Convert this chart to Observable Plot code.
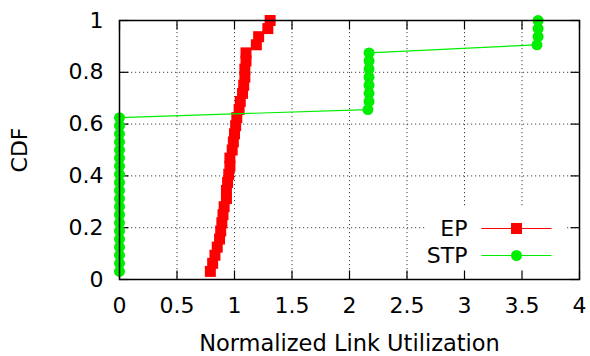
<!DOCTYPE html>
<html>
<head>
<meta charset="utf-8">
<script src="https://cdn.jsdelivr.net/npm/d3@7"></script>
<script src="https://cdn.jsdelivr.net/npm/@observablehq/plot@0.6"></script>
<style>
  html, body { margin: 0; padding: 0; background: #fff; }
  #chart { width: 590px; height: 356px; }
</style>
</head>
<body>
<div id="chart"></div>
<script>
// ---- data ----
const cdfSteps = 32;
const epValues = [0.79, 0.81, 0.83, 0.85, 0.87, 0.88, 0.89, 0.90, 0.91, 0.93,
                  0.93, 0.94, 0.95, 0.96, 0.96, 0.98, 0.99, 1.00, 1.01, 1.02,
                  1.04, 1.05, 1.07, 1.08, 1.09, 1.09, 1.10, 1.10, 1.19, 1.21,
                  1.29, 1.31];
const stpValues = [0, 0, 0, 0, 0, 0, 0, 0, 0, 0,
                   0, 0, 0, 0, 0, 0, 0, 0, 0, 0,
                   2.16, 2.17, 2.17, 2.17, 2.17, 2.17, 2.17, 2.17,
                   3.63, 3.64, 3.64, 3.64];
const xTicks = [0, 0.5, 1, 1.5, 2, 2.5, 3, 3.5, 4];
const yTicks = [0, 0.2, 0.4, 0.6, 0.8, 1];
const seriesNames = ["EP", "STP"];
const seriesColors = ["#ff0000", "#00ee00"];
const seriesSymbols = ["square", "circle"];
const xLabel = "Normalized Link Utilization";
const yLabel = "CDF";

const ep = epValues.map((v, i) => ({x: v, y: (i + 1) / cdfSteps}));
const stp = stpValues.map((v, i) => ({x: v, y: (i + 1) / cdfSteps}));

// custom symbols
const segment = (dx, dy) => ({draw(ctx) { ctx.moveTo(0, 0); ctx.lineTo(dx, dy); }});
const hline = (half) => ({draw(ctx) { ctx.moveTo(-half, 0); ctx.lineTo(half, 0); }});
const box = (x, y, w, h) => ({draw(ctx) { ctx.rect(x, y, w, h); }});
const T = 9; // tick length (px)

const fmt = d3.format("~g");

const chart = Plot.plot({
  width: 590,
  height: 356,
  marginLeft: 119,
  marginRight: 11,
  marginTop: 20,
  marginBottom: 77,
  style: {fontFamily: "'DejaVu Sans', sans-serif", fontSize: "22px", color: "#000", background: "#fff"},
  x: {domain: [0, 4]},
  y: {domain: [0, 1]},
  marks: [
    Plot.gridX(xTicks, {stroke: "#222", strokeOpacity: 0.85, strokeDasharray: "1.2,2.8", strokeWidth: 1}),
    Plot.gridY(yTicks, {stroke: "#222", strokeOpacity: 0.85, strokeDasharray: "1.2,2.8", strokeWidth: 1}),
    // legend background (opaque key)
    Plot.dot([0], {frameAnchor: "bottom-right", symbol: box(-154, -72, 140, 72), r: 5, fill: "white", stroke: "none"}),
    // inward ticks on all four sides
    Plot.dot(xTicks, {x: d => d, y: () => 0, symbol: segment(0, -T), r: 5, stroke: "black", strokeWidth: 1.2}),
    Plot.dot(xTicks, {x: d => d, y: () => 1, symbol: segment(0, T), r: 5, stroke: "black", strokeWidth: 1.2}),
    Plot.dot(yTicks, {y: d => d, x: () => 0, symbol: segment(T, 0), r: 5, stroke: "black", strokeWidth: 1.2}),
    Plot.dot(yTicks, {y: d => d, x: () => 4, symbol: segment(-T, 0), r: 5, stroke: "black", strokeWidth: 1.2}),
    Plot.axisX(xTicks, {tickSize: 0, tickPadding: 18, tickFormat: fmt, label: null}),
    Plot.axisY(yTicks, {tickSize: 0, tickPadding: 16, tickFormat: fmt, label: null}),
    // EP series
    Plot.line(ep, {x: "x", y: "y", stroke: seriesColors[0], strokeWidth: 1.2}),
    Plot.dot(ep, {x: "x", y: "y", symbol: seriesSymbols[0], r: 6.2, fill: seriesColors[0], stroke: "none"}),
    // STP series
    Plot.line(stp, {x: "x", y: "y", stroke: seriesColors[1], strokeWidth: 1.2}),
    Plot.dot(stp, {x: "x", y: "y", symbol: seriesSymbols[1], r: 5.5, fill: seriesColors[1], stroke: "none"}),
    // legend rows
    ...seriesNames.flatMap((name, i) => {
      const dy = i === 0 ? -51 : -24;
      return [
        Plot.text([name], {frameAnchor: "bottom-right", dx: -112, dy, text: d => d, textAnchor: "end", lineAnchor: "middle", fill: "black"}),
        Plot.dot([name], {frameAnchor: "bottom-right", dx: -63, dy, symbol: hline(35), r: 5, stroke: seriesColors[i], strokeWidth: 1.2}),
        Plot.dot([name], {frameAnchor: "bottom-right", dx: -63, dy, symbol: seriesSymbols[i], r: i === 0 ? 6.2 : 5.5, fill: seriesColors[i], stroke: "none"})
      ];
    }),
    Plot.frame({stroke: "black", strokeWidth: 1.5}),
    // axis titles
    Plot.text([xLabel], {frameAnchor: "bottom", dy: 64, text: d => d, textAnchor: "middle", lineAnchor: "middle", fill: "black", fontSize: 22.5}),
    Plot.text([yLabel], {frameAnchor: "left", dx: -99.5, text: d => d, rotate: -90, textAnchor: "middle", lineAnchor: "middle", fill: "black"})
  ]
});
document.getElementById("chart").appendChild(chart);
</script>
</body>
</html>
